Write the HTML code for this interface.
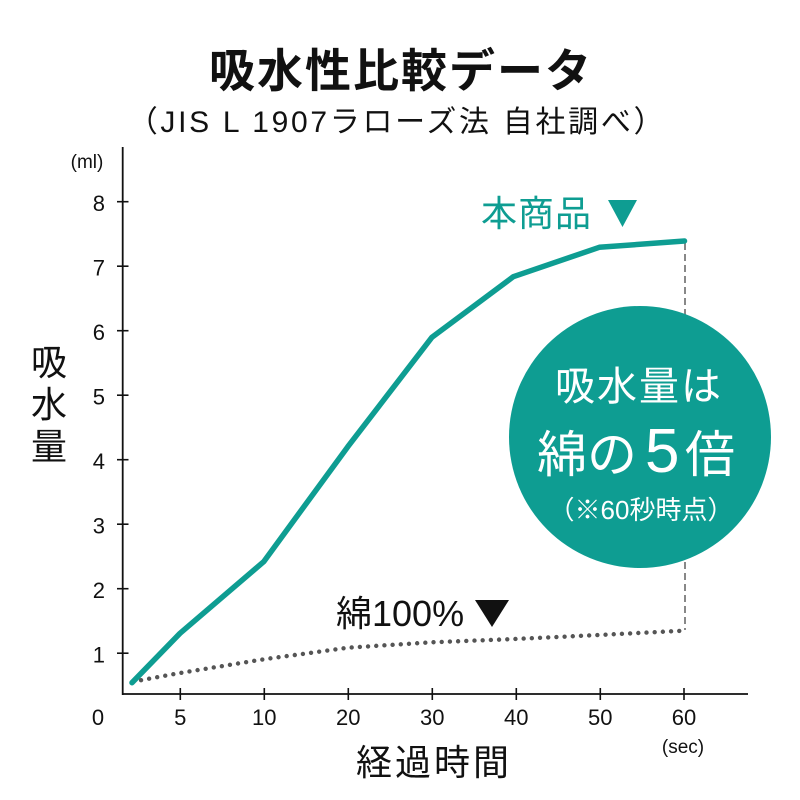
<!DOCTYPE html>
<html><head><meta charset="utf-8">
<style>
html,body{margin:0;padding:0;background:#fff;}
svg{display:block;}
text{font-family:"Liberation Sans","Noto Sans CJK JP",sans-serif;}
</style></head>
<body>
<svg width="800" height="800" viewBox="0 0 800 800" xmlns="http://www.w3.org/2000/svg">
<rect width="800" height="800" fill="#fff"/>
<!-- Title -->
<text x="401" y="87" font-size="46" font-weight="700" text-anchor="middle" letter-spacing="2" fill="#111">吸水性比較データ</text>
<text x="397" y="132" font-size="30" text-anchor="middle" letter-spacing="2.7" fill="#111">（JIS L 1907ラローズ法 自社調べ）</text>

<!-- axes -->
<line x1="122.7" y1="147" x2="122.7" y2="695" stroke="#111" stroke-width="1.8"/>
<line x1="122" y1="694" x2="748" y2="694" stroke="#111" stroke-width="1.8"/>
<g stroke="#111" stroke-width="1.6">
<line x1="117" y1="201.7" x2="128.5" y2="201.7"/>
<line x1="117" y1="266.2" x2="128.5" y2="266.2"/>
<line x1="117" y1="330.7" x2="128.5" y2="330.7"/>
<line x1="117" y1="395.2" x2="128.5" y2="395.2"/>
<line x1="117" y1="459.7" x2="128.5" y2="459.7"/>
<line x1="117" y1="524.2" x2="128.5" y2="524.2"/>
<line x1="117" y1="588.7" x2="128.5" y2="588.7"/>
<line x1="117" y1="653.2" x2="128.5" y2="653.2"/>
<line x1="180.3" y1="688" x2="180.3" y2="700"/>
<line x1="264.3" y1="688" x2="264.3" y2="700"/>
<line x1="348.3" y1="688" x2="348.3" y2="700"/>
<line x1="432.3" y1="688" x2="432.3" y2="700"/>
<line x1="516.3" y1="688" x2="516.3" y2="700"/>
<line x1="600.3" y1="688" x2="600.3" y2="700"/>
<line x1="684" y1="688" x2="684" y2="700"/>
</g>
<g font-size="22" fill="#111" text-anchor="end">
<text x="105" y="211">8</text>
<text x="105" y="275.5">7</text>
<text x="105" y="340">6</text>
<text x="105" y="404.5">5</text>
<text x="105" y="469">4</text>
<text x="105" y="533.5">3</text>
<text x="105" y="598">2</text>
<text x="105" y="662.5">1</text>
</g>
<text x="87" y="168" font-size="19" fill="#111" text-anchor="middle">(ml)</text>
<g font-size="22" fill="#111" text-anchor="middle">
<text x="98" y="725">0</text>
<text x="180.3" y="725">5</text>
<text x="264.3" y="725">10</text>
<text x="348.3" y="725">20</text>
<text x="432.3" y="725">30</text>
<text x="516.3" y="725">40</text>
<text x="600.3" y="725">50</text>
<text x="684" y="725">60</text>
</g>
<text x="683" y="753" font-size="19" fill="#111" text-anchor="middle">(sec)</text>

<!-- axis titles -->
<g font-size="36" fill="#111" text-anchor="middle">
<text x="49" y="375">吸</text>
<text x="49" y="417">水</text>
<text x="49" y="459">量</text>
</g>
<text x="434" y="775" font-size="36" fill="#111" text-anchor="middle" letter-spacing="3">経過時間</text>

<!-- dashed vertical -->
<line x1="685" y1="243" x2="685" y2="630" stroke="#888" stroke-width="2" stroke-dasharray="7 4"/>

<!-- cotton dotted -->
<polyline points="133,681.7 180,673 263.7,659.3 347.8,647.7 432,642.3 515,639 599,635 683.4,630.7" fill="none" stroke="#555" stroke-width="4.4" stroke-linecap="round" stroke-dasharray="0 8.2"/>

<!-- product line -->
<polyline points="132,682.7 180,633.3 263.7,561.7 347.8,446.7 431.9,337.3 513.3,276.7 599.3,247.3 684.5,241" fill="none" stroke="#0e9d92" stroke-width="5.5" stroke-linecap="round" stroke-linejoin="round"/>

<!-- labels -->
<text x="481" y="226" font-size="36" fill="#0e9d92" letter-spacing="1">本商品</text>
<polygon points="608,200 637,200 622.5,227" fill="#0e9d92"/>
<text x="336" y="626" font-size="36" fill="#111">綿<tspan font-weight="300">100%</tspan></text>
<polygon points="475,600 509,600 492,627" fill="#111"/>

<!-- circle -->
<circle cx="640" cy="437" r="131" fill="#0e9d92"/>
<text x="639" y="400" font-size="40" fill="#fff" text-anchor="middle" letter-spacing="2">吸水量は</text>
<text y="472" font-size="50" fill="#fff"><tspan x="537">綿の</tspan><tspan x="645" font-size="62">5</tspan><tspan x="685">倍</tspan></text>
<text x="641" y="519" font-size="26" fill="#fff" text-anchor="middle">（※60秒時点）</text>
</svg>
</body></html>
